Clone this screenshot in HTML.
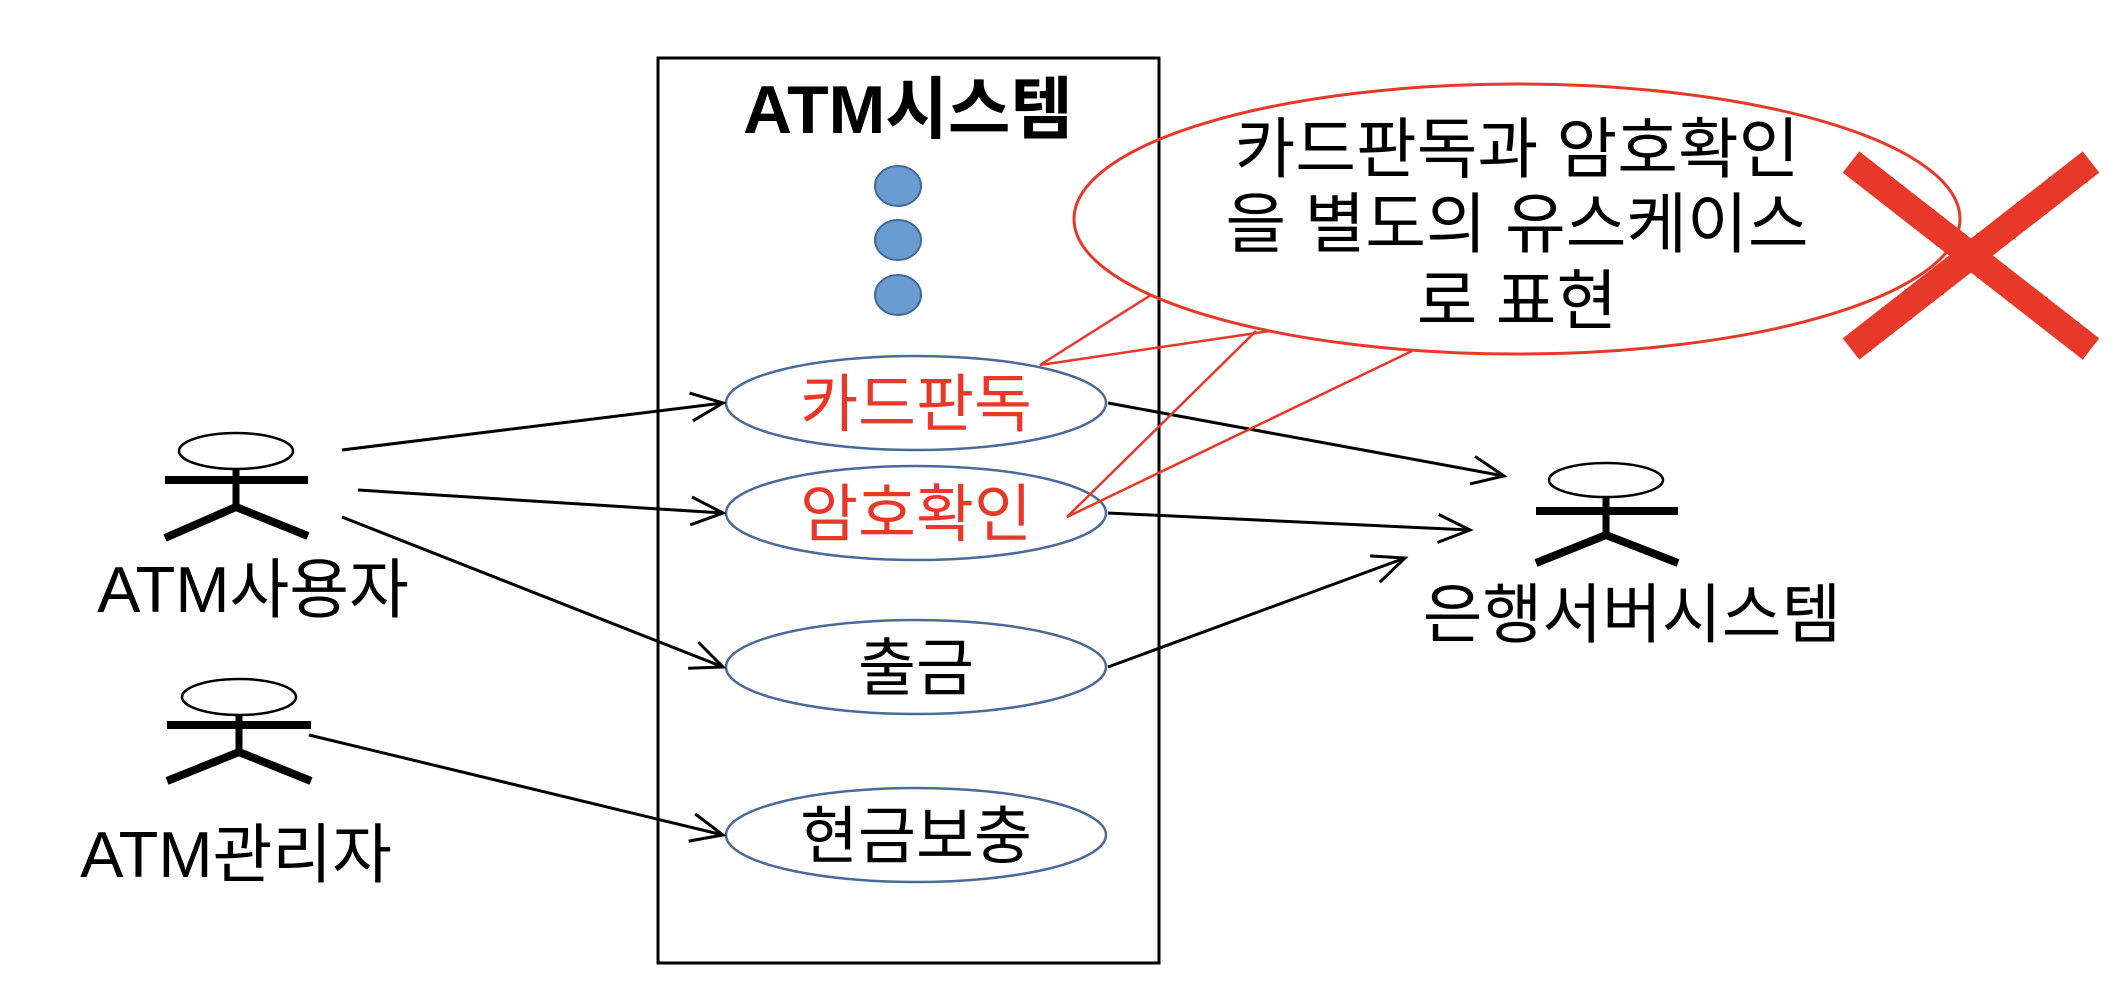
<!DOCTYPE html>
<html><head><meta charset="utf-8"><style>
html,body{margin:0;padding:0;background:#fff;}
svg{display:block}
text{font-family:"Liberation Sans","Noto Sans CJK KR",sans-serif;}
</style></head><body>
<svg width="2118" height="1000" viewBox="0 0 2118 1000" xmlns="http://www.w3.org/2000/svg">
<defs>
<marker id="a" markerWidth="40" markerHeight="40" refX="36" refY="16" orient="auto" markerUnits="userSpaceOnUse">
<path d="M4,2 L36,16 L4,30" fill="none" stroke="#000" stroke-width="3"/>
</marker>
</defs>
<rect x="658" y="58" width="501" height="905" fill="none" stroke="#000" stroke-width="3"/>
<text x="908" y="133" font-size="68" font-weight="bold" text-anchor="middle">ATM시스템</text>
<g fill="#6a9bd1" stroke="#3f6a9a" stroke-width="2">
<ellipse cx="898" cy="186" rx="23" ry="20"/>
<ellipse cx="898" cy="240" rx="23" ry="20"/>
<ellipse cx="898" cy="295" rx="23" ry="20"/>
</g>
<g fill="#fff" stroke="#4a6a98" stroke-width="2.5">
<ellipse cx="916" cy="403" rx="190" ry="47"/>
<ellipse cx="916" cy="513" rx="190" ry="47"/>
<ellipse cx="916" cy="667" rx="190" ry="47"/>
<ellipse cx="916" cy="835" rx="190" ry="47"/>
</g>
<g font-size="63" text-anchor="middle">
<text x="916" y="426" fill="#e8382a">카드판독</text>
<text x="916" y="536" fill="#e8382a">암호확인</text>
<text x="916" y="690">출금</text>
<text x="916" y="858">현금보충</text>
</g>
<g stroke="#000" fill="none">
<ellipse cx="236" cy="451" rx="57" ry="18" stroke-width="2.5"/>
<line x1="165" y1="480" x2="308" y2="480" stroke-width="8"/>
<polyline points="165,538 236,507 308,536" stroke-width="8"/>
<line x1="236" y1="469" x2="236" y2="507" stroke-width="7"/>
<ellipse cx="239" cy="697" rx="57" ry="18" stroke-width="2.5"/>
<line x1="167" y1="725" x2="311" y2="725" stroke-width="8"/>
<polyline points="167,781 239,752 311,781" stroke-width="8"/>
<line x1="239" y1="715" x2="239" y2="752" stroke-width="7"/>
<ellipse cx="1606" cy="480" rx="57" ry="17" stroke-width="2.5"/>
<line x1="1536" y1="511" x2="1678" y2="511" stroke-width="8"/>
<polyline points="1536,563 1606,535 1678,563" stroke-width="8"/>
<line x1="1606" y1="497" x2="1606" y2="535" stroke-width="7"/>
</g>
<g font-size="65" text-anchor="middle">
<text x="253" y="612">ATM사용자</text>
<text x="236" y="877">ATM관리자</text>
<text x="1632" y="637">은행서버시스템</text>
</g>
<g stroke="#000" stroke-width="3" fill="none" marker-end="url(#a)">
<line x1="342" y1="450" x2="723" y2="403"/>
<line x1="358" y1="490" x2="723" y2="513"/>
<line x1="342" y1="517" x2="723" y2="667"/>
<line x1="309" y1="735" x2="723" y2="835"/>
<line x1="1108" y1="403" x2="1504" y2="476"/>
<line x1="1108" y1="513" x2="1470" y2="530"/>
<line x1="1108" y1="667" x2="1405" y2="558"/>
</g>
<ellipse cx="1517" cy="219" rx="443" ry="135" fill="none" stroke="#e8382a" stroke-width="3"/>
<g stroke="#e8382a" stroke-width="2.5" fill="none">
<polyline points="1151,295 1040,365 1270,331"/>
<polyline points="1256,331 1067,517 1412,351"/>
</g>
<g font-size="66" text-anchor="middle">
<text x="1517" y="172">카드판독과 암호확인</text>
<text x="1517" y="247">을 별도의 유스케이스</text>
<text x="1517" y="324">로 표현</text>
</g>
<g stroke="#e8382a" stroke-width="27">
<line x1="1851" y1="162" x2="2091" y2="349"/>
<line x1="1851" y1="349" x2="2091" y2="162"/>
</g>
</svg>
</body></html>
